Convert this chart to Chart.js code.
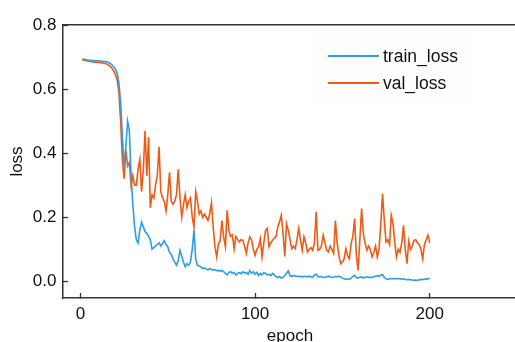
<!DOCTYPE html>
<html>
<head>
<meta charset="utf-8">
<script src="https://cdn.jsdelivr.net/npm/chart.js@4/dist/chart.umd.min.js"></script>
<style>
html,body{margin:0;padding:0;background:#fff;overflow:hidden;width:515px;height:342px;}
canvas{display:block;}
</style>
</head>
<body>
<canvas id="c" width="517" height="347"></canvas>
<script>
const seriesNames = ["train_loss", "val_loss"];
const epochs = Array.from({length: 200}, (_, i) => i + 1);
const xTickValues = [0, 100, 200];
const yTickValues = [0.0, 0.2, 0.4, 0.6, 0.8];

const trainLoss = [
0.694,0.693,0.692,0.691,0.690,0.690,0.689,0.689,0.688,0.688,
0.688,0.687,0.687,0.686,0.685,0.683,0.680,0.676,0.670,0.662,
0.650,0.620,0.560,0.450,0.360,0.420,0.500,0.470,0.330,0.240,
0.170,0.130,0.120,0.160,0.185,0.170,0.155,0.150,0.140,0.130,
0.100,0.105,0.110,0.115,0.120,0.110,0.118,0.127,0.115,0.108,
0.090,0.085,0.070,0.060,0.050,0.065,0.097,0.078,0.060,0.045,
0.055,0.050,0.060,0.100,0.160,0.070,0.050,0.048,0.045,0.040,
0.042,0.038,0.036,0.040,0.037,0.035,0.036,0.033,0.034,0.032,
0.034,0.030,0.025,0.020,0.028,0.030,0.025,0.028,0.020,0.025,
0.027,0.024,0.030,0.026,0.028,0.022,0.034,0.025,0.030,0.022,
0.028,0.018,0.025,0.020,0.027,0.025,0.020,0.022,0.018,0.025,
0.020,0.015,0.012,0.015,0.010,0.012,0.018,0.025,0.033,0.018,
0.015,0.018,0.017,0.015,0.016,0.015,0.014,0.016,0.015,0.014,
0.016,0.014,0.013,0.020,0.022,0.015,0.014,0.015,0.013,0.012,
0.014,0.016,0.014,0.012,0.013,0.015,0.014,0.016,0.013,0.010,
0.008,0.006,0.008,0.006,0.010,0.015,0.019,0.012,0.010,0.013,
0.014,0.010,0.013,0.014,0.012,0.013,0.012,0.014,0.016,0.018,
0.015,0.020,0.021,0.012,0.008,0.006,0.008,0.009,0.008,0.009,
0.008,0.009,0.008,0.007,0.008,0.006,0.005,0.006,0.005,0.004,
0.003,0.004,0.003,0.005,0.006,0.005,0.008,0.006,0.009,0.007
];

const valLoss = [
0.692,0.690,0.689,0.688,0.687,0.686,0.685,0.684,0.684,0.683,
0.683,0.682,0.681,0.680,0.678,0.675,0.671,0.665,0.657,0.645,
0.630,0.590,0.500,0.380,0.320,0.410,0.360,0.370,0.300,0.330,
0.300,0.300,0.350,0.380,0.280,0.350,0.470,0.330,0.450,0.230,
0.270,0.260,0.300,0.330,0.420,0.280,0.260,0.250,0.220,0.270,
0.340,0.250,0.240,0.250,0.270,0.350,0.260,0.200,0.240,0.270,
0.230,0.250,0.260,0.200,0.170,0.280,0.250,0.210,0.220,0.200,
0.210,0.200,0.190,0.210,0.245,0.170,0.110,0.076,0.117,0.127,
0.190,0.139,0.108,0.222,0.159,0.140,0.145,0.102,0.140,0.130,
0.123,0.130,0.128,0.110,0.087,0.120,0.139,0.130,0.100,0.081,
0.100,0.108,0.133,0.076,0.120,0.159,0.165,0.108,0.120,0.128,
0.135,0.140,0.170,0.185,0.206,0.150,0.078,0.180,0.160,0.130,
0.102,0.110,0.102,0.130,0.165,0.130,0.097,0.139,0.120,0.092,
0.100,0.105,0.097,0.120,0.217,0.097,0.100,0.110,0.144,0.120,
0.097,0.092,0.110,0.100,0.087,0.190,0.120,0.080,0.055,0.060,
0.070,0.102,0.080,0.070,0.118,0.140,0.196,0.081,0.034,0.128,
0.227,0.149,0.120,0.097,0.110,0.100,0.076,0.090,0.110,0.076,
0.100,0.180,0.274,0.190,0.123,0.130,0.115,0.206,0.180,0.120,
0.076,0.100,0.090,0.120,0.175,0.100,0.055,0.125,0.100,0.110,
0.128,0.130,0.120,0.115,0.100,0.070,0.115,0.130,0.144,0.120
];

const FONT = "'Liberation Sans', Arial, sans-serif";
const AXIS = '#333333';
const colors = ['#2b9fe2', '#f05a14'];

const legendPlugin = {
  id: 'insideLegend',
  afterDatasetsDraw(chart) {
    const ctx = chart.ctx;
    ctx.save();
    ctx.fillStyle = 'rgba(0,0,0,0.005)';
    ctx.fillRect(313, 33, 160, 76);
    ctx.font = '17.5px ' + FONT;
    ctx.textBaseline = 'middle';
    ctx.textAlign = 'left';
    chart.data.datasets.forEach((ds, i) => {
      const y = 56 + i * 27;
      ctx.strokeStyle = ds.borderColor;
      ctx.lineWidth = 2;
      ctx.beginPath();
      ctx.moveTo(328, y);
      ctx.lineTo(379, y);
      ctx.stroke();
      ctx.fillStyle = '#111';
      ctx.fillText(ds.label, 383, y + 1);
    });
    ctx.restore();
  }
};

new Chart(document.getElementById('c'), {
  type: 'line',
  data: {
    labels: epochs,
    datasets: [
      { label: seriesNames[0], data: epochs.map((e, i) => ({x: e, y: trainLoss[i]})),
        borderColor: colors[0], backgroundColor: colors[0], borderWidth: 1.6, pointRadius: 0, tension: 0 },
      { label: seriesNames[1], data: epochs.map((e, i) => ({x: e, y: valLoss[i]})),
        borderColor: colors[1], backgroundColor: colors[1], borderWidth: 1.6, pointRadius: 0, tension: 0 }
    ]
  },
  options: {
    responsive: false,
    animation: false,
    layout: { padding: 0 },
    plugins: { legend: { display: false }, tooltip: { enabled: false } },
    scales: {
      x: {
        type: 'linear', position: 'bottom', min: -10, max: 250,
        afterBuildTicks: s => { s.ticks = xTickValues.map(v => ({value: v})); },
        afterFit: s => { s.height = 49; },
        ticks: { font: { family: FONT, size: 17 }, color: '#111', padding: 11.5, maxRotation: 0,
                 callback: v => String(v) },
        grid: { display: true, drawOnChartArea: false, drawTicks: true, tickLength: -5, tickColor: AXIS, tickWidth: 1.3 },
        border: { display: true, color: AXIS, width: 1.5 },
        title: { display: true, text: 'epoch', font: { family: FONT, size: 17 }, color: '#111', padding: 0 }
      },
      xTop: {
        type: 'linear', position: 'top', min: -10, max: 250, display: true,
        afterFit: s => { s.height = 25; },
        ticks: { display: false },
        grid: { display: false, drawTicks: false },
        border: { display: true, color: AXIS, width: 1.5 }
      },
      y: {
        type: 'linear', position: 'left', min: -0.052, max: 0.8,
        afterBuildTicks: s => { s.ticks = yTickValues.map(v => ({value: v})); },
        afterFit: s => { s.width = 63; },
        ticks: { font: { family: FONT, size: 17 }, color: '#111', padding: 11.5,
                 callback: v => Number(v).toFixed(1) },
        grid: { display: true, drawOnChartArea: false, drawTicks: true, tickLength: -5, tickColor: AXIS, tickWidth: 1.3 },
        border: { display: true, color: AXIS, width: 1.5 },
        title: { display: true, text: 'loss', font: { family: FONT, size: 17 }, color: '#111', padding: { top: 7.5, bottom: 0 } }
      }
    }
  },
  plugins: [legendPlugin]
});
</script>
</body>
</html>
